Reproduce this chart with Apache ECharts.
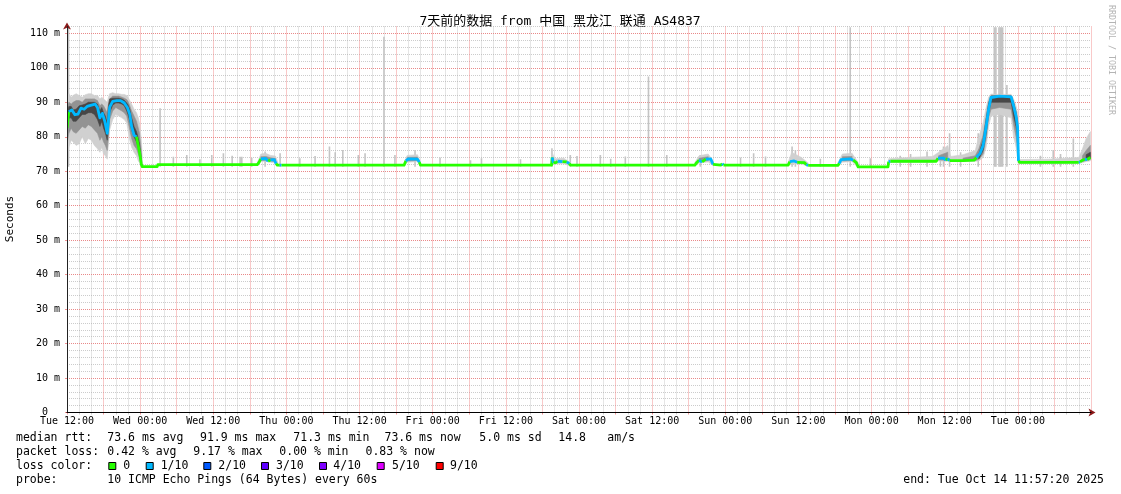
<!DOCTYPE html>
<html><head><meta charset="utf-8">
<script src="https://cdn.jsdelivr.net/npm/echarts@6/dist/echarts.min.js"></script>
<style>html,body{margin:0;padding:0;background:#fff}#c{width:1121px;height:494px}</style>
</head><body><div id="c"></div>
<script>
// ---- tick labels ----
const X_TICK_LABELS = ["Tue 12:00","Wed 00:00","Wed 12:00","Thu 00:00","Thu 12:00","Fri 00:00","Fri 12:00",
  "Sat 00:00","Sat 12:00","Sun 00:00","Sun 12:00","Mon 00:00","Mon 12:00","Tue 00:00"];
const Y_TICK_LABELS = ["0\u00a0\u00a0","10 m","20 m","30 m","40 m","50 m","60 m","70 m","80 m","90 m","100 m","110 m"];

// ---- median rtt (ms), hours since Tue 00:00; LOSS = loss level of the segment starting at each point ----
const T = [12.0,12.3,12.8,13.3,13.8,14.3,14.8,15.3,16.0,16.6,17.0,17.4,17.8,18.2,18.6,19.0,19.5,20.2,20.8,21.4,21.9,22.3,22.6,23.0,23.4,23.9,24.2,24.35,
  26.8,26.9,35.0,43.2,43.5,43.8,44.6,45.0,45.4,46.0,46.3,46.5,46.9,47.2,58.0,67.3,67.6,68.0,69.5,69.8,70.0,80.0,
  91.5,91.6,91.8,92.3,92.5,93.3,94.0,94.4,94.6,105.0,115.0,115.3,115.7,116.2,116.8,117.6,118.0,119.3,119.5,119.7,125.0,
  130.3,130.6,131.3,131.8,133.0,133.3,133.6,138.5,138.7,139.0,140.5,141.0,141.5,141.8,146.7,146.8,147.1,151.0,154.6,
  154.9,155.8,156.2,156.5,156.8,159.0,160.8,161.2,161.8,162.3,162.8,163.2,163.6,165.0,166.9,167.3,167.7,167.95,168.1,
  168.3,173.0,178.0,178.2,178.6,179.0,179.4,179.9];
const MED = [82.5,87.3,87.8,86.4,86.6,88.3,88.0,88.8,89.2,89.5,88.5,85.5,86.8,84.5,81.0,88.6,90.3,90.5,90.5,89.8,88.5,86.5,83.0,80.5,80.0,75.5,72.0,71.35,
  71.35,71.9,71.9,71.9,72.6,73.6,73.7,72.9,73.3,73.4,72.2,71.75,71.75,71.75,71.75,71.75,73.0,73.6,73.5,72.6,71.75,71.75,
  71.75,74.0,72.4,72.6,72.9,72.8,72.7,72.2,71.8,71.8,71.75,72.5,73.2,72.7,73.5,73.6,72.0,71.8,72.2,71.8,71.75,
  71.75,72.8,73.0,72.6,72.5,71.9,71.7,71.7,72.3,73.4,73.6,73.2,72.5,71.25,71.25,72.8,72.9,72.9,72.9,
  73.8,73.8,73.2,73.7,73.1,73.1,73.2,74.0,75.2,77.5,83.0,88.0,91.4,91.8,91.6,89.0,86.0,83.0,73.0,
  72.6,72.6,72.6,72.7,73.2,73.5,73.4,74.0];
const LOSS = [0,1,1,1,1,1,1,1,1,1,1,1,1,1,1,1,1,1,1,1,1,1,1,1,0,0,0,0,
  0,0,0,0,0,1,1,0,1,1,0,0,1,0,0,0,1,1,1,0,0,0,
  0,1,0,0,1,0,1,0,0,0,0,0,1,0,1,1,0,0,1,0,0,
  0,1,1,0,0,1,0,0,1,1,1,0,0,0,0,1,0,0,0,
  1,1,0,1,0,0,0,1,1,1,1,1,1,1,1,1,1,1,0,
  0,0,1,0,0,1,0,1];

// ---- smoke (distribution of the 10 pings), null = no smoke ----
const ST = [12.0,12.3,12.7,13.0,13.5,14.0,14.5,15.0,15.5,16.0,16.5,17.0,17.4,17.7,18.0,18.3,18.6,18.8,19.0,19.5,20.0,20.5,21.0,21.4,21.8,22.0,22.3,22.6,23.0,23.4,23.7,23.9,24.2,24.4,30,
  43.3,43.8,44.6,45.4,46.2,46.6,50,
  67.3,67.8,69.5,70.0,75,
  91.4,91.6,92.0,93.5,94.6,100,
  115.0,115.7,117.2,118.0,125,
  130.3,130.9,132.5,133.6,135,
  138.5,139.2,140.8,141.8,144,
  146.8,150.0,154.0,155.0,156.5,157.0,159.0,161.0,161.6,162.3,162.8,163.2,163.6,165.0,166.9,167.3,167.7,167.95,168.1,168.3,173.0,178.0,178.6,179.2,179.9];
const OLO = [73.5,77,79,78.5,77.5,78,80,78,79.5,79,77.5,76.5,75.5,77,75,74.5,73.5,78,82,85,86.5,86,85.5,85,84,82,79,77,75.5,74.5,73,72.5,71.3,71.1,null,
  71.6,72.8,72.9,72.6,72.4,71.5,null,
  71.5,72.6,72.8,71.5,null,
  71.5,72.2,72.1,72.2,71.5,null,
  71.5,72.4,72.7,71.6,null,
  71.5,72.2,72.1,71.5,null,
  71.5,72.6,72.8,71.0,null,
  72.5,72.6,72.6,73.0,72.9,72.8,72.8,72.9,73.0,74.0,77,83,86,86.5,85.5,80,77,74,72.2,72.2,72.2,72.3,72.5,72.8,73.0];
const OHI = [91.5,92.5,91.5,92,92.5,92,91.5,92.2,92.5,92.5,92,92,91,91.5,91,90.5,90,91.5,92.5,92.8,92.5,92.5,92.3,92.3,92,91.5,90.5,89.5,88,87,85.5,84,79,72.3,null,
  72.8,75.0,75.2,74.6,74.4,72.5,null,
  72.5,74.6,74.8,72.6,null,
  72.4,75.5,73.6,73.8,72.5,null,
  72.5,74.5,75.0,73.0,null,
  72.5,75.5,74.0,72.4,null,
  72.5,75.0,75.2,72.5,null,
  73.6,74.0,74.3,75.5,77.5,74.3,74.8,76,80,84,88.5,91.5,92.4,92.3,92.3,91,89,87,76,73.4,73.5,74.0,76.5,79.5,81.5];
const MLO = [78,81,82.5,81.5,81,82,83,82.5,83.5,83,82,81,79,80,78.5,77.5,76,80,85,87.5,88.5,88,87.5,87,86,84.5,82,79.5,77.5,76.5,75,74,71.6,null,null,
  null,73.1,73.2,73.0,72.8,null,null,
  null,73.0,73.1,null,null,
  null,72.8,null,72.5,null,null,
  null,72.8,73.1,null,null,
  null,72.6,null,null,null,
  null,73.0,73.1,null,null,
  null,null,null,73.3,73.2,null,73.0,73.1,73.4,75.0,79.5,85.5,88,88.5,88,83.5,80,77,72.5,null,null,null,72.8,73.1,73.4];
const MHI = [88.5,90,89.5,90,90.5,90.5,90,91,91,91,91,90.5,89,89.5,89,88,87,89.5,91,91.8,91.8,91.8,91.5,91.2,90.8,90.3,89,87.5,86,84.5,82.5,81,75.5,null,null,
  null,74.2,74.3,73.9,73.7,null,null,
  null,74.0,74.1,null,null,
  null,74.5,null,73.3,null,null,
  null,73.8,74.2,null,null,
  null,73.8,null,null,null,
  null,74.2,74.3,null,null,
  null,null,null,74.5,75.5,null,73.8,74.5,76.5,80.5,86,90.2,92,92,92,90,87.5,85,74,null,null,null,74.5,76,77.5];
const CLO = [82,85.5,85.5,84.5,84.5,85.5,86.5,86.5,87,87,86.5,85,83,84.5,82.5,81,79,83,87,89.2,89.8,89.8,89.5,89,87.5,86.5,84.5,82,80,78.5,77,75.5,71.8,null,null,
  null,null,null,null,null,null,null,
  null,null,null,null,null,
  null,73.3,null,null,null,null,
  null,null,null,null,null,
  null,null,null,null,null,
  null,null,null,null,null,
  null,null,null,null,73.4,null,null,null,73.6,76,81,87,90,90,90,86,83,80,null,null,null,null,null,73.4,73.7];
const CHI = [86,88.8,88.8,87.8,88,89,89.2,89.5,90,90,90,89.5,87.5,88.5,87,86,84,89,91,91.2,91.2,91.2,91,90.6,89.8,89.3,88,85.5,83,81.5,79.5,78,73.5,null,null,
  null,null,null,null,null,null,null,
  null,null,null,null,null,
  null,74.2,null,null,null,null,
  null,null,null,null,null,
  null,null,null,null,null,
  null,null,null,null,null,
  null,null,null,null,74.5,null,null,null,75,79,85,89.6,91.8,91.9,91.8,90,87,84,null,null,null,null,null,74.8,75.5];

// ---- single-ping outliers ----
const SPIKE_T = [12.25,27.27,29.45,31.65,33.8,35.75,37.66,39.1,40.4,40.68,42.3,44.5,46.96,50.2,52.7,55.06,56.0,57.25,59.8,60.9,64.0,65.8,69.1,73.2,78.2,80.0,86.4,
  91.56,94.57,95.67,99.5,101.2,103.6,107.4,110.4,115.9,122.5,124.65,126.6,130.96,131.5,135.6,140.5,143.8,148.7,150.4,153.1,155.3,155.8,156.8,158.6,161.5,
  164.2,164.4,164.9,165.1,165.3,165.5,166.2,171.7,173.8,175.0,177.1];
const SPIKE_V = [111.8,88.3,74.2,74.7,73.5,74.7,75.2,74.5,74.2,74.2,73.9,75.7,75.2,73.8,74.4,77.2,75.5,76.2,74.7,75.2,109.0,74.7,76.2,74.0,73.2,73.8,73.5,
  76.7,74.7,74.4,74.7,73.6,74.3,97.5,74.7,74.7,74.0,75.2,74.3,77.2,76.2,73.6,111.8,73.8,74.5,75.0,75.7,76.2,77.2,81.0,75.5,81.0,
  111.8,111.8,111.8,111.8,111.8,111.8,95.0,74.5,76.2,75.0,79.5];
const SPIKE_BASE = 71.3;

// ---- legend ----
const LOSS_COLORS = ['#26ff00','#00b8ff','#0059ff','#5e00ff','#7e00ff','#dd00ff','#ff0000'];
const LOSS_NAMES = ['0','1/10','2/10','3/10','4/10','5/10','9/10'];
const RTT_ROW = [["median rtt:",16],["73.6 ms avg",107.3],["91.9 ms max",200],["71.3 ms min",293.3],["73.6 ms now",384.5],["5.0 ms sd",479.3],["14.8",558.3],["am/s",607.3]];
const LOSS_ROW = [["packet loss:",16],["0.42 % avg",107.3],["9.17 % max",193.3],["0.00 % min",279.3],["0.83 % now",365.5]];
const SWATCH_X = [108.3,145.7,203.3,261,319,376.7,435.7];
const SWATCH_TX = [123.3,160.7,218.3,276,333.3,392,450];

const MONO = "'DejaVu Sans Mono', monospace";
const chart = echarts.init(document.getElementById('c'));

function bandSeries(lo, hi, color, z) {
  const runs = []; let s = -1;
  for (let i = 0; i <= ST.length; i++) {
    const ok = i < ST.length && lo[i] != null && hi[i] != null;
    if (ok && s < 0) s = i;
    if (!ok && s >= 0) { if (i - 1 > s) runs.push([s, i - 1]); s = -1; }
  }
  return {
    type: 'custom', z, silent: true, clip: true,
    data: runs.map(r => [ST[r[0]], lo[r[0]]]),
    renderItem: (params, api) => {
      const r = runs[params.dataIndex]; const pts = [];
      for (let i = r[0]; i <= r[1]; i++) pts.push(api.coord([ST[i], hi[i]]));
      for (let i = r[1]; i >= r[0]; i--) pts.push(api.coord([ST[i], lo[i]]));
      return { type: 'polygon', shape: { points: pts }, style: { fill: color, stroke: color, lineWidth: 0.6 } };
    }
  };
}

const medRuns = []; { let s = 0;
  for (let i = 1; i <= T.length - 1; i++) {
    if (i === T.length - 1 || LOSS[i] !== LOSS[s]) { medRuns.push([s, i]); s = i; }
  } }

const graphics = [];
function txt(text, x, y, extra) {
  graphics.push(Object.assign({ type: 'text', x, y, silent: true,
    style: Object.assign({ text, font: '11.5px ' + MONO, fill: '#000', align: 'left', verticalAlign: 'middle' }, extra || {}) }));
}
RTT_ROW.forEach(([s, x]) => txt(s, x, 438.3));
LOSS_ROW.forEach(([s, x]) => txt(s, x, 452.3));
txt("loss color:", 16, 466);
LOSS_NAMES.forEach((n, i) => {
  graphics.push({ type: 'rect', silent: true, shape: { x: SWATCH_X[i] + 0.5, y: 462.5, width: 7, height: 7 },
    style: { fill: LOSS_COLORS[i], stroke: '#000', lineWidth: 1 } });
  txt(n, SWATCH_TX[i], 466);
});
txt("probe:", 16, 480);
txt("10 ICMP Echo Pings (64 Bytes) every 60s", 107.3, 480);
txt("end: Tue Oct 14 11:57:20 2025", 1104, 480, { align: 'right' });
graphics.push({ type: 'text', x: 560, y: 21.5, silent: true,
  style: { text: '7天前的数据 from 中国 黑龙江 联通 AS4837', font: "13px 'DejaVu Sans Mono', 'Noto Sans CJK SC', monospace",
    fill: '#000', align: 'center', verticalAlign: 'middle' } });
graphics.push({ type: 'text', x: 10.5, y: 219, rotation: Math.PI / 2, silent: true,
  style: { text: 'Seconds', font: '11px ' + MONO, fill: '#000', align: 'center', verticalAlign: 'middle' } });
graphics.push({ type: 'text', x: 1111, y: 60, rotation: -Math.PI / 2, silent: true,
  style: { text: 'RRDTOOL / TOBI OETIKER', font: '8.3px ' + MONO, fill: '#b4b4b4', align: 'center', verticalAlign: 'middle' } });

const RED = 'rgba(240,120,120,0.8)';
const GRAY = 'rgba(170,170,170,0.6)';
const hidden = { axisLabel: { show: false }, axisTick: { show: false }, splitLine: { show: false } };

chart.setOption({
  backgroundColor: '#fff',
  animation: false,
  grid: { left: 67, right: 30, top: 26.5, bottom: 81.5 },
  xAxis: [
    { type: 'value', min: 12, max: 180, interval: 6, position: 'bottom', z: 0,
      axisLine: { show: false },
      axisTick: { show: true, length: 2, lineStyle: { color: RED } },
      axisLabel: { formatter: v => (v % 12 === 0 && v < 180) ? X_TICK_LABELS[(v - 12) / 12] : '',
        fontFamily: MONO, fontSize: 10, color: '#000', margin: 4, showMaxLabel: false },
      splitLine: { show: true, lineStyle: { color: RED, type: [1, 1], width: 1 } },
      minorTick: { show: true, splitNumber: 3, length: 2, lineStyle: { color: GRAY } },
      minorSplitLine: { show: true, lineStyle: { color: GRAY, type: [1, 1], width: 1 } } },
    Object.assign({ type: 'value', min: 12, max: 180, position: 'bottom', z: 10,
      axisLine: { show: true, lineStyle: { color: '#8b1a1a' }, symbol: ['none', 'arrow'], symbolSize: [6, 7], symbolOffset: [0, 4.5] } }, hidden),
    Object.assign({ type: 'value', min: 12, max: 180, position: 'bottom', z: 11,
      axisLine: { show: true, lineStyle: { color: '#000' } } }, hidden)
  ],
  yAxis: [
    { type: 'value', min: 0, max: 112, interval: 10, position: 'left', z: 1,
      axisLine: { show: false },
      axisTick: { show: true, length: 2, lineStyle: { color: RED } },
      axisLabel: { formatter: v => (v % 10 === 0 ? (Y_TICK_LABELS[v / 10] || '') : ''),
        fontFamily: MONO, fontSize: 10, color: '#000', margin: 7, showMaxLabel: false },
      splitLine: { show: true, showMaxLine: false, lineStyle: { color: RED, type: [1, 1], width: 1 } } },
    Object.assign({ type: 'value', min: 0, max: 112, interval: 2, position: 'left', z: 0,
      axisLine: { show: false } }, hidden, { splitLine: { show: true, showMaxLine: true, lineStyle: { color: GRAY, type: [1, 1], width: 1 } } }),
    Object.assign({ type: 'value', min: 0, max: 112, position: 'left', z: 10,
      axisLine: { show: true, lineStyle: { color: '#8b1a1a' }, symbol: ['none', 'arrow'], symbolSize: [6, 7], symbolOffset: [0, 4] } }, hidden),
    Object.assign({ type: 'value', min: 0, max: 112, position: 'left', z: 11,
      axisLine: { show: true, lineStyle: { color: '#222' } } }, hidden)
  ],
  series: [
    { type: 'custom', z: 2, silent: true, clip: true,
      data: SPIKE_T.map((t, i) => [t, SPIKE_V[i]]),
      renderItem: (params, api) => {
        const a = api.coord([api.value(0), SPIKE_BASE]), b = api.coord([api.value(0), api.value(1)]);
        return { type: 'line', shape: { x1: a[0], y1: a[1], x2: b[0], y2: b[1] }, style: { stroke: '#c4c4c4', lineWidth: 1.6 } };
      } },
    bandSeries(OLO, OHI, '#d0d0d0', 3),
    bandSeries(MLO, MHI, '#939393', 4),
    bandSeries(CLO, CHI, '#474747', 5),
    { type: 'custom', z: 6, silent: true, clip: true,
      data: medRuns.map(r => [T[r[0]], MED[r[0]]]),
      renderItem: (params, api) => {
        const r = medRuns[params.dataIndex]; const pts = [];
        for (let i = r[0]; i <= r[1]; i++) pts.push(api.coord([T[i], MED[i]]));
        return { type: 'polyline', shape: { points: pts },
          style: { stroke: LOSS_COLORS[LOSS[r[0]]], lineWidth: 2.8, fill: null, lineJoin: 'round' } };
      } }
  ],
  graphic: graphics
});
</script></body></html>
